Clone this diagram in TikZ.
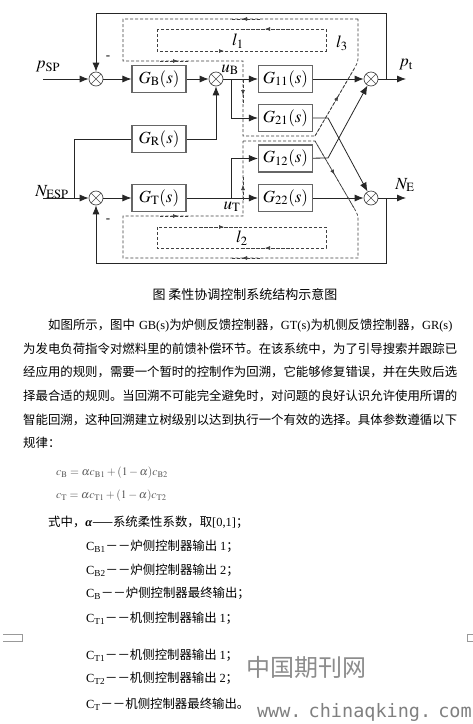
\documentclass[tikz,border=0pt]{standalone}
\usepackage{mathptmx}
\usepackage{fontspec}
\setmainfont{Liberation Serif}
\newfontfamily\cjk{Noto Sans CJK SC}
\newfontfamily\wwwfont{DejaVu Sans Mono}
\usetikzlibrary{arrows.meta,calc,decorations.markings}

% 中文字符之间可伸缩, 便于两端对齐
\XeTeXinterchartokenstate=1
\newcommand\cjkglue{\hskip0pt plus 1pt minus 0.5pt\relax}
\XeTeXinterchartoks 1 1 = {\cjkglue}
\XeTeXinterchartoks 1 3 = {\cjkglue}
\XeTeXinterchartoks 3 1 = {\cjkglue}
\XeTeXinterchartoks 3 3 = {\cjkglue}
\XeTeXinterchartoks 0 1 = {\cjkglue}
\XeTeXinterchartoks 1 0 = {\cjkglue}
\XeTeXinterchartoks 3 0 = {\cjkglue}
\XeTeXinterchartoks 0 3 = {\cjkglue}
\newcommand\latn[1]{{\rmfamily #1}}

\tikzset{
  blk/.style={draw=black!60, line width=1.1pt, minimum width=54pt, minimum height=27pt,
    inner sep=0pt, font=\fontsize{17}{19}\selectfont},
  sump/.style={circle, draw=black!70, line width=0.7pt, minimum size=14pt, inner sep=0pt,
    path picture={\draw[black!70, line width=0.6pt]
      (path picture bounding box.north west) -- (path picture bounding box.south east)
      (path picture bounding box.north east) -- (path picture bounding box.south west);}},
  sig/.style={draw=black!85, line width=0.8pt},
  loopline/.style={draw=black!75, dash pattern=on 3pt off 2pt, line width=0.7pt},
  flowmark/.style={postaction=decorate, decoration={markings,
    mark=at position #1 with {\arrow{Latex[length=5pt,width=4pt]}}}},
  lbl/.style={font=\fontsize{17}{19}\selectfont, inner sep=0pt},
  txt/.style={anchor=west, inner sep=0pt, text height=11pt, text depth=1.6pt,
    font=\cjk\fontsize{12.4}{14}\selectfont},
}

\begin{document}
\begin{tikzpicture}[x=1pt, y=-1pt, >={Latex[length=9pt,width=7pt]}]
    \fill[white] (0,0) rectangle (473,724);
    \useasboundingbox (0,0) rectangle (473,724);

    % 方框与比较点
    \node[sump] (s1) at (96,79) {};
    \node[blk] (gb) at (159,79) {$G_{\mathrm{B}}(s)$};
    \node[sump] (s2) at (216,79) {};
    \node[blk] (gr) at (159,139) {$G_{\mathrm{R}}(s)$};
    \node[sump] (s3) at (96,198) {};
    \node[blk] (gt) at (159,198) {$G_{\mathrm{T}}(s)$};
    \node[blk] (g11) at (285.5,79) {$G_{11}(s)$};
    \node[blk] (g21) at (285.5,118) {$G_{21}(s)$};
    \node[blk] (g12) at (285.5,158.5) {$G_{12}(s)$};
    \node[blk] (g22) at (285.5,198) {$G_{22}(s)$};
    \node[sump] (s4) at (371,79) {};
    \node[sump] (s5) at (371,198) {};

    % 分支点
    \coordinate (pin) at (43,79);
    \coordinate (nin) at (43,198);
    \coordinate (pout) at (406,79);
    \coordinate (nout) at (406,198);
    \coordinate (bb) at (231,79);
    \coordinate (bt) at (231,198);
    \coordinate (rg) at (74,198);
    \coordinate (fp) at (386,79);
    \coordinate (fn) at (386,198);
    \coordinate (tp) at (386,13);
    \coordinate (bp) at (386,263);
    \coordinate (c21) at (328,118);
    \coordinate (c12) at (328,158);

    % 锅炉侧通道
    \draw[sig,->] (pin) -- (s1);
    \draw[sig,->] (s1) -- (gb);
    \draw[sig,->] (gb) -- (s2);
    \draw[sig] (s2) -- (bb);
    \draw[sig,->] (bb) -- (g11);
    \draw[sig,->] (bb) |- (g21);
    \draw[sig,->] (g11) -- (s4);
    \draw[sig,->] (s4) -- (pout);
    \draw[sig,->] (fp) -- (tp) -| (s1);

    % 前馈
    \draw[sig] (rg) |- (gr);
    \draw[sig,->] (gr) -| (s2);

    % 汽机侧通道
    \draw[sig,->] (nin) -- (s3);
    \draw[sig,->] (s3) -- (gt);
    \draw[sig] (gt) -- (bt);
    \draw[sig,->] (bt) -- (g22);
    \draw[sig,->] (bt) |- (g12);
    \draw[sig,->] (g22) -- (s5);
    \draw[sig,->] (s5) -- (nout);
    \draw[sig,->] (fn) -- (bp) -| (s3);

    % 交叉耦合
    \draw[sig,->] (g21) -- (c21) -- (s5);
    \draw[sig,->] (g12) -- (c12) -- (s4);

    % 回路 l1, l3
    \draw[loopline] (157,29) rectangle (326,51);
    \draw[loopline, flowmark=0.5] (290,29) -- (240,29);
    \draw[loopline, flowmark=0.6] (200,51) -- (240,51);
    \draw[loopline] (358,19) -- (123,19) -- (123,61) -- (243,61) -- (243,136) -- (315,136)
      -- (354,69) .. controls (358,62) .. (358,55) -- cycle;
    \draw[loopline, flowmark=0.6] (260,19) -- (230,19);
    \draw[loopline, flowmark=0.6] (160,61) -- (190,61);
    \draw[loopline, flowmark=0.6] (243,80) -- (243,105);
    \draw[loopline, flowmark=0.6] (315,136) -- (354,69);

    % 回路 l2, l3
    \draw[loopline] (157,227) rectangle (326,248);
    \draw[loopline, flowmark=0.6] (200,227) -- (240,227);
    \draw[loopline, flowmark=0.5] (290,248) -- (240,248);
    \draw[loopline] (243,141) -- (315,141) -- (354,208) .. controls (358,215) .. (358,222)
      -- (358,258) -- (123,258) -- (123,216) -- (243,216) -- cycle;
    \draw[loopline, flowmark=0.6] (160,216) -- (190,216);
    \draw[loopline, flowmark=0.6] (260,258) -- (230,258);
    \draw[loopline, flowmark=0.6] (243,200) -- (243,175);
    \draw[loopline, flowmark=0.5] (315,141) -- (354,208);

    % 信号标注
    \node[lbl] (lpsp) at (48,67) {$p_{\mathrm{SP}}$};
    \node[lbl] (lnesp) at (52,192) {$N_{\mathrm{ESP}}$};
    \node[lbl] (lpt) at (406,65) {$p_{\mathrm{t}}$};
    \node[lbl] (lne) at (405,185) {$N_{\mathrm{E}}$};
    \node[lbl] (lub) at (230,70) {$u_{\mathrm{B}}$};
    \node[lbl] (lut) at (232,207) {$u_{\mathrm{T}}$};
    \node[lbl] (ll1) at (238,41) {$l_1$};
    \node[lbl] (ll2) at (242,238) {$l_2$};
    \node[lbl] (ll3) at (342,43) {$l_3$};
    \node[font=\fontsize{13}{15}\selectfont, inner sep=0pt] (m1) at (108,58) {-};
    \node[font=\fontsize{13}{15}\selectfont, inner sep=0pt] (m2) at (108,221) {-};

    % 图题与正文
    \node[txt, anchor=center, font=\cjk\fontsize{13}{15}\selectfont] (cap) at (245,295)
      {图 柔性协调控制系统结构示意图};
    \node[txt] (p1) at (48,325) {\makebox[409pt][s]{如图所示，图中\hspace{4pt}\latn{GB(s)}为炉侧反馈控制器，\latn{GT(s)}为机侧反馈控制器，\latn{GR(s)}}};
    \node[txt] (p2) at (23,349) {\makebox[434pt][s]{为发电负荷指令对燃料里的前馈补偿环节。在该系统中，为了引导搜索并跟踪已}};
    \node[txt] (p3) at (23,372) {\makebox[434pt][s]{经应用的规则，需要一个暂时的控制作为回溯，它能够修复错误，并在失败后选}};
    \node[txt] (p4) at (23,396) {\makebox[434pt][s]{择最合适的规则。当回溯不可能完全避免时，对问题的良好认识允许使用所谓的}};
    \node[txt] (p5) at (23,420) {\makebox[434pt][s]{智能回溯，这种回溯建立树级别以达到执行一个有效的选择。具体参数遵循以下}};
    \node[txt] (p6) at (23,443) {规律：};

    % 公式
    \node[anchor=west, inner sep=0pt, text=black!65, font=\fontsize{11.5}{13}\selectfont] (eqb) at (56,473)
      {$c_{\mathrm{B}}=\alpha c_{\mathrm{B1}}+(1-\alpha)c_{\mathrm{B2}}$};
    \node[anchor=west, inner sep=0pt, text=black!65, font=\fontsize{11.5}{13}\selectfont] (eqt) at (56,496)
      {$c_{\mathrm{T}}=\alpha c_{\mathrm{T1}}+(1-\alpha)c_{\mathrm{T2}}$};

    % 符号说明
    \node[txt] (d0) at (48,522) {式中，\latn{\bfseries\itshape α}——系统柔性系数，取\latn{[0,1]}；};
    \node[txt] (d1) at (86,546) {\latn{C\textsubscript{B1}}－－炉侧控制器输出 \latn{1}；};
    \node[txt] (d2) at (86,570) {\latn{C\textsubscript{B2}}－－炉侧控制器输出 \latn{2}；};
    \node[txt] (d3) at (86,593) {\latn{C\textsubscript{B}}－－炉侧控制器最终输出；};
    \node[txt] (d4) at (86,618) {\latn{C\textsubscript{T1}}－－机侧控制器输出 \latn{1}；};
    \node[txt] (d5) at (86,655) {\latn{C\textsubscript{T1}}－－机侧控制器输出 \latn{1}；};
    \node[txt] (d6) at (86,678) {\latn{C\textsubscript{T2}}－－机侧控制器输出 \latn{2}；};
    \node[txt] (d7) at (86,704) {\latn{C\textsubscript{T}}－－机侧控制器最终输出。};

    % 页边标记
    \draw[black!40, line width=0.6pt] (3,634) -- (22,634) -- (22,641) -- (3,641);
    \draw[black!40, line width=0.6pt] (473,634) -- (467,634) -- (467,641) -- (473,641);

    % 水印
    \node[anchor=west, inner sep=0pt, text=black!45, font=\cjk\fontsize{24}{26}\selectfont] (wm1) at (246,667) {中国期刊网};
    \node[anchor=east, inner sep=0pt, text=black!50, font=\wwwfont\fontsize{18.5}{21}\selectfont] (wm2) at (472,712)
      {www.\kern-4pt\ chinaqking.\kern-4pt\ com};
\end{tikzpicture}
\end{document}
